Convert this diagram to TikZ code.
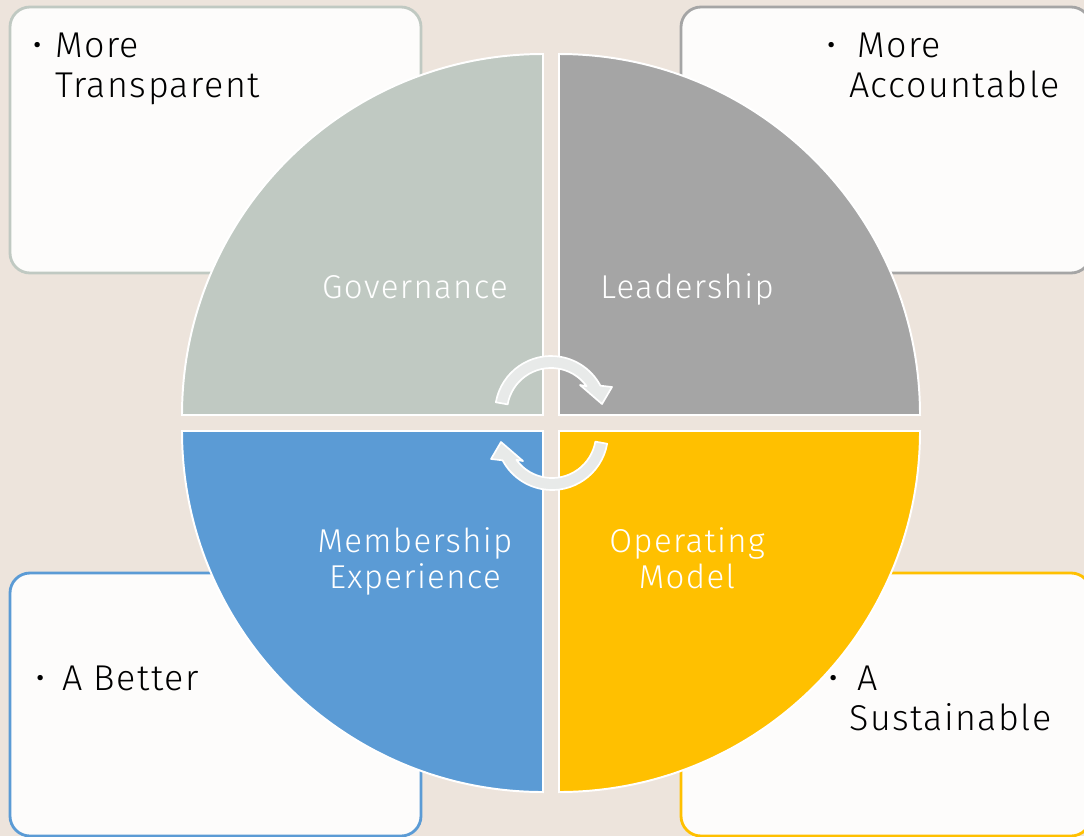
\documentclass[tikz,border=0pt]{standalone}
\usepackage{fontspec}
\setmainfont[LetterSpace=4]{Fira Sans Light}
\definecolor{backdrop}{RGB}{237,228,220}
\definecolor{paper}{RGB}{253,252,251}
\definecolor{govgreen}{RGB}{192,201,194}
\definecolor{leadgray}{RGB}{165,165,165}
\definecolor{memberblue}{RGB}{91,155,213}
\definecolor{operyellow}{RGB}{255,192,0}
\definecolor{turngray}{RGB}{232,234,233}
\tikzset{
	outcome/.style={fill=paper, line width=2pt, rounded corners=0.5cm},
	quarter/.style={draw=white, line width=1.4pt},
	turn arrow/.style={fill=turngray, draw=white, line width=1.2pt, line join=round},
	outcome text/.style={inner sep=0pt, anchor=base west, font=\fontsize{25.5}{28.5}\selectfont},
	quarter text/.style={inner sep=0pt, text=white, align=center, font=\fontsize{23.5}{25.5}\selectfont}
}
\begin{document}
\begin{tikzpicture}[x=0.025cm, y=-0.025cm]
	\useasboundingbox (0,0) rectangle (1084,836);
	\clip (0,0) rectangle (1084,836);
	\fill [backdrop] (0,0) rectangle (1084,836);
	% outcome boxes
	\draw [outcome, draw=govgreen] (10,7) rectangle (421,273);
	\draw [outcome, draw=leadgray] (681,7) rectangle (1091,273);
	\draw [outcome, draw=memberblue] (10,573) rectangle (421,836);
	\draw [outcome, draw=operyellow] (681,573) rectangle (1091,836);
	\node (transparent) [outcome text] at (32,57) {\begin{tabular}[t]{@{}p{0.575cm}@{}l@{}} \textbullet & More \\ & Transparent \end{tabular}};
	\node (accountable) [outcome text] at (826,57) {\begin{tabular}[t]{@{}p{0.575cm}@{}l@{}} \textbullet & \hspace{0.2cm}More \\ & Accountable \end{tabular}};
	\node (better) [outcome text] at (35,690) {\begin{tabular}[t]{@{}p{0.675cm}@{}l@{}} \textbullet & A Better \end{tabular}};
	\node (sustainable) [outcome text] at (828,690) {\begin{tabular}[t]{@{}p{0.525cm}@{}l@{}} \textbullet & \hspace{0.2cm}A \\ & Sustainable \end{tabular}};
	% the four quarters
	\filldraw [quarter, fill=govgreen] (543,415) -- ++(180:361) arc (180:270:361) -- cycle;
	\filldraw [quarter, fill=leadgray] (559,415) -- ++(270:361) arc (270:360:361) -- cycle;
	\filldraw [quarter, fill=operyellow] (559,431) -- ++(0:361) arc (0:90:361) -- cycle;
	\filldraw [quarter, fill=memberblue] (543,431) -- ++(90:361) arc (90:180:361) -- cycle;
	\node (governance) [quarter text, anchor=base] at (415,298) {Governance};
	\node (leadership) [quarter text, anchor=base] at (687,298) {Leadership};
	\node (membership) [quarter text] at (415,563) {\strut Membership\\Experience\strut};
	\node (operating) [quarter text] at (687,563) {\strut Operating\\Model\strut};
	% turning arrows
	\foreach \turn in {0,180} {
		\begin{scope}[rotate around={\turn:(551.5,423)}]
			\filldraw [turn arrow] ([shift={(190:56)}]551,412) arc (190:332:56) -- (612,387) -- (602,404) -- (580,385) -- ([shift={(324:44)}]551,412) arc (324:190:44) -- cycle;
		\end{scope}
	}
\end{tikzpicture}
\end{document}
